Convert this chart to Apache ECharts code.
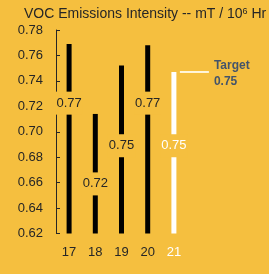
<!DOCTYPE html>
<html>
<head>
<meta charset="utf-8">
<script src="https://cdn.jsdelivr.net/npm/echarts@6/dist/echarts.min.js"></script>
<style>
  html, body { margin: 0; padding: 0; background: #F5BF3F; }
  #main { width: 269px; height: 274px; }
</style>
</head>
<body>
<div id="main"></div>
<script>
// years (x axis)
const years = ['17', '18', '19', '20', '21'];
// bar heights
const values = [0.769, 0.714, 0.752, 0.768, 0.747];
// label texts as printed on the chart
const labels = ['0.77', '0.72', '0.75', '0.77', '0.75'];
// where each label sits on the value scale
const labelAt = [0.7225, 0.659, 0.689, 0.7225, 0.689];
// target value (shown for year 21)
const target = 0.747;
const targetText = ['Target', '0.75'];
// y axis ticks
const yMin = 0.62, yMax = 0.78, yStep = 0.02;

const bg = '#F5BF3F';
const ink = '#262626';
const font = 'Liberation Sans';

const barColors = values.map((v, i) => i === values.length - 1 ? '#FFFFFF' : '#000000');

let myChart = echarts.init(document.getElementById('main'));

myChart.setOption({
    backgroundColor: bg,
    animation: false,
    title: {
        text: 'VOC Emissions Intensity -- mT / 10{sup|6} Hr',
        left: 19,
        top: 2,
        textStyle: {
            fontFamily: font,
            fontSize: 14,
            fontWeight: 'normal',
            color: ink,
            rich: {
                sup: { fontFamily: font, fontSize: 9, color: ink, verticalAlign: 'top', lineHeight: 14 }
            }
        }
    },
    grid: { left: 56, top: 30, width: 131, height: 203.5 },
    xAxis: {
        type: 'category',
        data: years,
        axisLine: { show: false },
        axisTick: { show: false },
        axisLabel: {
            margin: 12,
            fontFamily: font,
            fontSize: 13,
            color: (v, i) => i === years.length - 1 ? '#FFFFFF' : ink
        }
    },
    yAxis: {
        type: 'value',
        min: yMin,
        max: yMax,
        interval: yStep,
        splitLine: { show: false },
        axisLine: { show: true, lineStyle: { color: ink, width: 1 } },
        axisTick: { show: true, inside: true, length: 4, lineStyle: { color: ink } },
        axisLabel: {
            margin: 13,
            fontFamily: font,
            fontSize: 13,
            color: ink,
            formatter: v => v.toFixed(2)
        }
    },
    series: [
        {
            type: 'bar',
            barWidth: 5,
            data: values.map((v, i) => ({ value: v, itemStyle: { color: barColors[i] } })),
            z: 2
        },
        {
            type: 'scatter',
            symbolSize: 0,
            z: 5,
            itemStyle: { opacity: 1 },
            data: labelAt.map((v, i) => ({
                value: v,
                label: {
                    show: true,
                    position: 'inside',
                    formatter: labels[i],
                    fontFamily: font,
                    fontSize: 13,
                    color: i === labels.length - 1 ? '#FFFFFF' : ink,
                    backgroundColor: bg,
                    padding: [5, 1, 5, 1]
                }
            }))
        }
    ]
});

// target marker: short white line beside the last bar, with its text
const ty = myChart.convertToPixel({ yAxisIndex: 0 }, target);
const tx = myChart.convertToPixel({ xAxisIndex: 0 }, years[years.length - 1]);
myChart.setOption({
    graphic: [
        {
            type: 'line',
            shape: { x1: tx + 6, y1: ty, x2: tx + 35, y2: ty },
            style: { stroke: '#FFF6DC', lineWidth: 2 }
        },
        {
            type: 'text',
            left: tx + 40,
            top: ty - 14,
            style: {
                text: targetText.join('\n'),
                fontFamily: font,
                fontSize: 12,
                fontWeight: 'bold',
                lineHeight: 16,
                fill: '#44546A'
            }
        }
    ]
});
</script>
</body>
</html>
